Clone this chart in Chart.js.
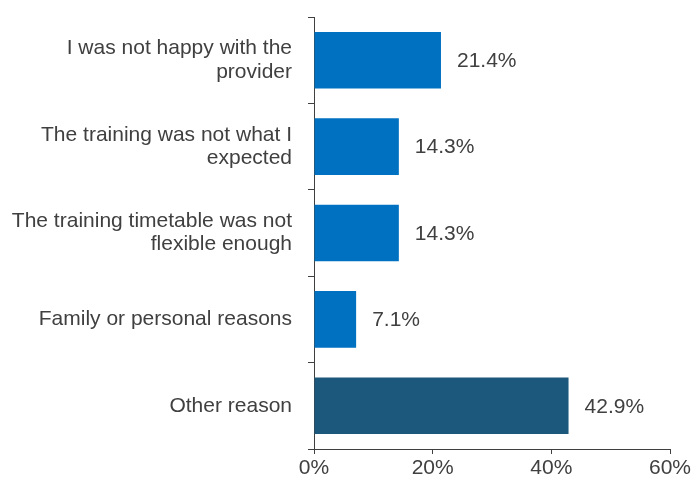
<!DOCTYPE html>
<html>
<head>
<meta charset="utf-8">
<script src="https://cdn.jsdelivr.net/npm/chart.js@4/dist/chart.umd.min.js"></script>
<style>
	html, body { margin: 0; padding: 0; background: #fff; }
	#wrap { width: 692px; height: 482px; }
</style>
</head>
<body>
<div id="wrap"><canvas id="bar-chart" width="692" height="482"></canvas></div>
<script>
var
	categories = [
		["I was not happy with the", "provider"],
		["The training was not what I", "expected"],
		["The training timetable was not", "flexible enough"],
		"Family or personal reasons",
		"Other reason"
	],
	values = [21.4, 14.3, 14.3, 7.1, 42.9],
	xTicks = [0, 20, 40, 60];

var
	blue = "#0070c0",
	darkBlue = "#1c587c",
	textGrey = "#404040",
	axisGrey = "#404040",
	fontFamily = "'Liberation Sans', Arial, sans-serif",
	barColours = [blue, blue, blue, blue, darkBlue];

// value labels to the right of each bar
var valueLabels = {
	id: "valueLabels",
	afterDatasetsDraw: function (chart) {
		var ctx = chart.ctx, meta = chart.getDatasetMeta(0);
		ctx.save();
		ctx.font = "21px " + fontFamily;
		ctx.fillStyle = textGrey;
		ctx.textAlign = "left";
		ctx.textBaseline = "middle";
		meta.data.forEach(function (bar, i) {
			ctx.fillText(values[i].toFixed(1) + "%", bar.x + 16, bar.y + 1);
		});
		ctx.restore();
	}
};

new Chart(document.getElementById("bar-chart").getContext("2d"), {
	type: "bar",
	data: {
		labels: categories,
		datasets: [{
			data: values,
			backgroundColor: barColours,
			borderWidth: 0,
			barPercentage: 0.655,
			categoryPercentage: 1
		}]
	},
	options: {
		indexAxis: "y",
		responsive: false,
		animation: false,
		layout: { padding: { top: 17, right: 22, left: 0, bottom: 0 } },
		plugins: {
			legend: { display: false },
			tooltip: { enabled: false }
		},
		scales: {
			x: {
				min: 0,
				max: 60,
				afterBuildTicks: function (scale) {
					scale.ticks = xTicks.map(function (v) { return { value: v }; });
				},
				afterFit: function (scale) {
					scale.height = 33;
					scale.paddingLeft = 0;
					scale.paddingRight = 0;
				},
				border: { display: true, color: axisGrey, width: 1 },
				grid: { drawOnChartArea: false, tickLength: 5, color: axisGrey },
				ticks: {
					padding: 2,
					color: textGrey,
					font: { family: fontFamily, size: 21 },
					callback: function (v) { return v + "%"; }
				}
			},
			y: {
				afterFit: function (scale) {
					scale.width = 314;
					scale.paddingTop = 0;
					scale.paddingBottom = 0;
				},
				border: { display: true, color: axisGrey, width: 1 },
				grid: { drawOnChartArea: false, tickLength: 6, color: axisGrey, offset: true },
				ticks: {
					padding: 16,
					color: textGrey,
					font: { family: fontFamily, size: 21, lineHeight: 1.1 }
				}
			}
		}
	},
	plugins: [valueLabels]
});
</script>
</body>
</html>
